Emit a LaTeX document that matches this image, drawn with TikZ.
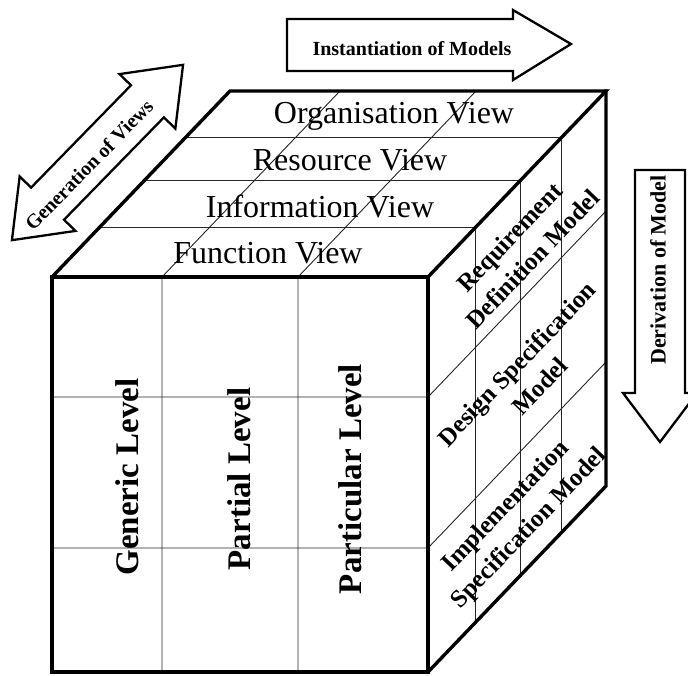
\documentclass[tikz,border=0pt]{standalone}
\usepackage{fontspec}
\setmainfont{Liberation Serif}
\usetikzlibrary{calc}
\begin{document}
\begin{tikzpicture}[x=1pt,y=-1pt,
  edge/.style={line width=3.4pt, line join=miter, line cap=rect},
  gridline/.style={line width=0.9pt, black!85},
  arrowbox/.style={draw, line width=2.3pt, fill=white, line join=miter},
  viewlbl/.style={font=\fontsize{32}{36}\selectfont, inner sep=0pt, anchor=base},
  levellbl/.style={font=\fontsize{33}{38}\selectfont\bfseries, rotate=90, inner sep=0pt},
  modellbl/.style={font=\fontsize{25}{32}\selectfont\bfseries, rotate=46.3, align=center, inner sep=0pt},
  arrowlbl/.style={font=\fontsize{20}{24}\selectfont\bfseries, inner sep=0pt}
]
\useasboundingbox (0,0) rectangle (688,675);

% cube corners
\coordinate (fbl) at (52,672);
\coordinate (fbr) at (428,672);
\coordinate (ftr) at (428,277);
\coordinate (ftl) at (52,277);
\coordinate (btl) at (230,91);
\coordinate (btr) at (606,91);
\coordinate (bbr) at (606,486);

% faces
\fill[white] (fbl) -- (fbr) -- (bbr) -- (btr) -- (btl) -- (ftl) -- cycle;

% level columns: front verticals continuing across the top face
\foreach \xx in {162,298}
  \draw[gridline] (\xx,672) -- (\xx,277) -- ($(\xx,277)+(178,-186)$);
% model rows: front horizontals continuing across the right face
\foreach \yy in {397,548}
  \draw[gridline] (52,\yy) -- (428,\yy) -- ($(428,\yy)+(178,-186)$);
% view slices: top horizontals continuing down the right face
\foreach \ff in {0.265,0.52,0.75}
  \draw[gridline] ($(ftl)!\ff!(btl)$) -- ($(ftr)!\ff!(btr)$) -- ($(fbr)!\ff!(bbr)$);

% view labels on the top face
\node[viewlbl] (org)  at (394,123) {Organisation View};
\node[viewlbl] (res)  at (350,170) {Resource View};
\node[viewlbl] (info) at (320,217) {Information View};
\node[viewlbl] (func) at (268,263) {Function View};

% level labels on the front face
\node[levellbl] (gen)  at (127,477) {Generic Level};
\node[levellbl] (part) at (239,479) {Partial Level};
\node[levellbl] (ptc)  at (350,479) {Particular Level};

% model labels on the right face
\node[modellbl] (req)  at (521,248) {Requirement\\Definition Model};
\node[modellbl] (des)  at (528,375) {Design Specification\\Model};
\node[modellbl] (impl) at (518,518) {Implementation\\Specification Model};

% cube outline
\draw[edge] (fbl) rectangle (ftr);
\draw[edge] (ftl) -- (btl) -- (btr) -- (ftr);
\draw[edge] (btr) -- (bbr) -- (fbr);

% instantiation arrow
\draw[arrowbox] (287,19) -- (513,19) -- (513,10) -- (571,44) -- (513,80) -- (513,71) -- (287,71) -- cycle;
\node[arrowlbl, anchor=base] (inst) at (412,55) {Instantiation of Models};

% derivation arrow
\draw[arrowbox] (635,170) -- (685,170) -- (685,393) -- (697,393) -- (660,442) -- (623,393) -- (635,393) -- cycle;
\node[arrowlbl, rotate=90, font=\fontsize{22}{26}\selectfont\bfseries] (deriv) at (658,270) {Derivation of Model};

% generation double arrow
\begin{scope}[shift={(97.5,152.5)}, rotate=45.7]
  \draw[arrowbox] (-122.5,0) -- (-71.5,-39) -- (-71.5,-23) -- (71.5,-23) -- (71.5,-39)
    -- (122.5,0) -- (71.5,39) -- (71.5,23) -- (-71.5,23) -- (-71.5,39) -- cycle;
\end{scope}
\node[arrowlbl, rotate=45.7] (genv) at (89,165) {Generation of Views};

\end{tikzpicture}
\end{document}
